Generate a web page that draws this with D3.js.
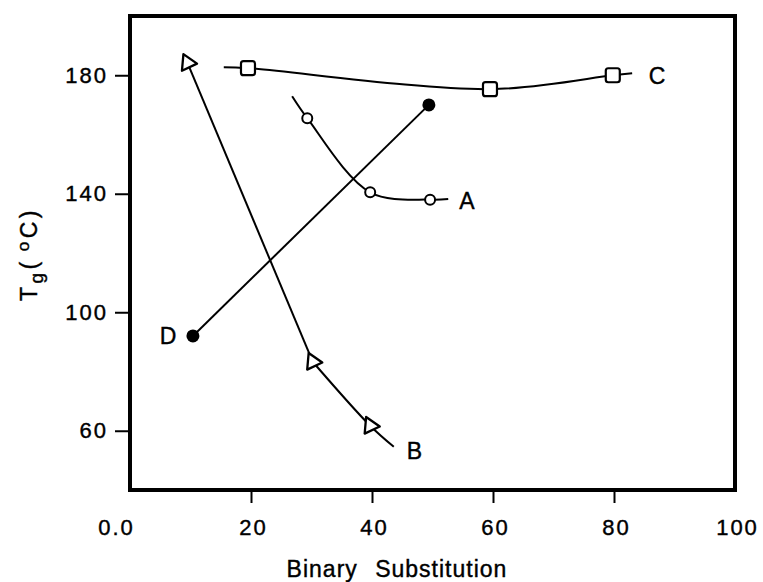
<!DOCTYPE html>
<html>
<head>
<meta charset="utf-8">
<script src="https://cdn.jsdelivr.net/npm/d3@7"></script>
<style>
  body { margin: 0; background: #fff; }
  svg text { font-family: "Liberation Sans", Arial, sans-serif; fill: #000; stroke: #000; stroke-width: 0.4px; }
</style>
</head>
<body>
<div id="chart"></div>
<script>
// values: x = binary substitution, y = Tg (°C)
const xTicks = [0, 20, 40, 60, 80, 100];
const xTickLabels = ["0.0", "20", "40", "60", "80", "100"];
const yTicks = [60, 100, 140, 180];

const seriesNames = ["A", "B", "C", "D"];

// marker positions
const aX = [29.3, 39.7, 49.6];
const aY = [165.5, 140.5, 138.0];
const bX = [9.5, 30.2, 39.7];
const bY = [184.2, 83.3, 61.7];
const cX = [19.5, 59.5, 79.8];
const cY = [182.4, 175.3, 180.0];
const dX = [10.4, 49.4];
const dY = [92.0, 170.0];

// the hand drawn curves run a little past the first / last marker
const aLineX = [26.8, 29.3, 39.7, 49.6, 52.6];
const aLineY = [172.9, 165.5, 140.5, 138.0, 138.2];
const bLineX = [9.5, 30.2, 39.7, 43.6];
const bLineY = [184.2, 83.3, 61.7, 54.6];
const cLineX = [15.5, 19.5, 59.5, 79.8, 83.0];
const cLineY = [182.7, 182.4, 175.3, 180.0, 180.7];
const dLineX = [10.4, 49.4];
const dLineY = [92.0, 170.0];

// curve labels (A, B, C, D)
const labelX = [55.7, 47.0, 87.1, 6.3];
const labelY = [137.4, 53.0, 179.7, 92.0];

const width = 763, height = 582;
const plotLeft = 130, plotRight = 735, plotTop = 16, plotBottom = 490;

const svg = d3.select("#chart")
  .append("svg")
  .attr("width", width)
  .attr("height", height);

const x = d3.scaleLinear().domain([0, 100]).range([plotLeft, plotRight]);
const y = d3.scaleLinear().domain([40, 200]).range([plotBottom, plotTop]);

const zip = (xs, ys) => xs.map((v, i) => [v, ys[i]]);

// axes
const yAxis = svg.append("g")
  .attr("transform", "translate(" + plotLeft + ",0)")
  .call(d3.axisLeft(y).tickValues(yTicks).tickSize(15).tickPadding(7).tickFormat(d3.format("d")));
yAxis.select(".domain").remove();
yAxis.selectAll(".tick line").attr("stroke-width", 2);
yAxis.selectAll(".tick text")
  .attr("font-size", 22)
  .attr("letter-spacing", 2)
  .attr("font-family", null);

const xAxis = svg.append("g")
  .attr("transform", "translate(0," + plotBottom + ")")
  .call(d3.axisBottom(x).tickValues(xTicks).tickSize(13).tickPadding(16)
    .tickFormat((d, i) => xTickLabels[i]));
xAxis.select(".domain").remove();
xAxis.selectAll(".tick line")
  .attr("stroke-width", 2)
  .attr("display", d => (d === 0 || d === 100) ? "none" : null);
xAxis.selectAll(".tick text")
  .attr("font-size", 22)
  .attr("letter-spacing", 2)
  .attr("font-family", null)
  .attr("dx", d => d === 0 ? -14 : 2);

// frame
svg.append("rect")
  .attr("x", plotLeft)
  .attr("y", plotTop)
  .attr("width", plotRight - plotLeft)
  .attr("height", plotBottom - plotTop)
  .attr("fill", "none")
  .attr("stroke", "#000")
  .attr("stroke-width", 4);

// curves - B is ruled straight down to its second marker, then bends
const curved = d3.line().x(d => x(d[0])).y(d => y(d[1])).curve(d3.curveCatmullRom.alpha(0.5));
const straight = d3.line().x(d => x(d[0])).y(d => y(d[1]));
const bPts = zip(bLineX, bLineY);

const lines = [
  { pts: zip(aLineX, aLineY), gen: curved },
  { pts: bPts.slice(0, 2), gen: straight },
  { pts: bPts.slice(1), gen: curved },
  { pts: zip(cLineX, cLineY), gen: curved },
  { pts: zip(dLineX, dLineY), gen: straight }
];

svg.append("g")
  .selectAll("path")
  .data(lines)
  .enter()
  .append("path")
  .attr("d", d => d.gen(d.pts))
  .attr("fill", "none")
  .attr("stroke", "#000")
  .attr("stroke-width", 2);

// markers
svg.append("g")
  .selectAll("circle")
  .data(zip(aX, aY))
  .enter()
  .append("circle")
  .attr("cx", d => x(d[0]))
  .attr("cy", d => y(d[1]))
  .attr("r", 5)
  .attr("fill", "#fff")
  .attr("stroke", "#000")
  .attr("stroke-width", 2);

svg.append("g")
  .selectAll("path")
  .data(zip(bX, bY))
  .enter()
  .append("path")
  .attr("d", d3.symbol(d3.symbolTriangle, 120))
  .attr("transform", d => "translate(" + x(d[0]) + "," + y(d[1]) + ") rotate(95)")
  .attr("fill", "#fff")
  .attr("stroke", "#000")
  .attr("stroke-width", 2.3)
  .attr("stroke-linejoin", "round");

svg.append("g")
  .selectAll("rect")
  .data(zip(cX, cY))
  .enter()
  .append("rect")
  .attr("x", d => x(d[0]) - 7)
  .attr("y", d => y(d[1]) - 7)
  .attr("width", 14)
  .attr("height", 14)
  .attr("rx", 2.5)
  .attr("fill", "#fff")
  .attr("stroke", "#000")
  .attr("stroke-width", 2.2);

svg.append("g")
  .selectAll("circle")
  .data(zip(dX, dY))
  .enter()
  .append("circle")
  .attr("cx", d => x(d[0]))
  .attr("cy", d => y(d[1]))
  .attr("r", 6.5)
  .attr("fill", "#000");

// series letters
svg.append("g")
  .selectAll("text")
  .data(seriesNames)
  .enter()
  .append("text")
  .attr("x", (d, i) => x(labelX[i]))
  .attr("y", (d, i) => y(labelY[i]))
  .attr("text-anchor", "middle")
  .attr("dominant-baseline", "central")
  .attr("font-size", 23)
  .text(d => d);

// axis titles
svg.append("text")
  .attr("x", 397)
  .attr("y", 577)
  .attr("text-anchor", "middle")
  .attr("font-size", 23)
  .attr("letter-spacing", 1)
  .attr("word-spacing", 10)
  .text("Binary Substitution");

const yTitle = svg.append("text")
  .attr("transform", "translate(37,254) rotate(-90)")
  .attr("text-anchor", "middle")
  .attr("font-size", 23)
  .attr("letter-spacing", 3.5);
yTitle.append("tspan").text("T");
yTitle.append("tspan").attr("font-size", 19).attr("dy", 6).text("g");
yTitle.append("tspan").attr("dy", -6).text("(");
yTitle.append("tspan").attr("font-size", 17).attr("dy", -8).attr("dx", 7).text("o");
yTitle.append("tspan").attr("dy", 8).text("C)");
</script>
</body>
</html>
